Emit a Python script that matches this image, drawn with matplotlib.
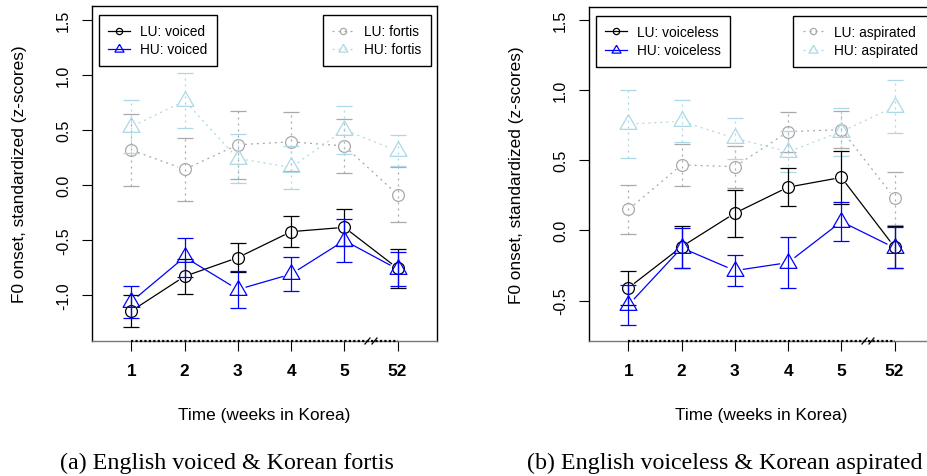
import matplotlib.pyplot as plt
import numpy as np
from matplotlib.collections import LineCollection
from matplotlib.lines import Line2D
from matplotlib.transforms import IdentityTransform

plt.rcParams['font.family'] = 'Liberation Sans'
plt.rcParams['axes.unicode_minus'] = False

# data (means and standard errors, z-scores)
weeks = ['1', '2', '3', '4', '5', '52']

lu_voiced = [-1.145, -0.83, -0.66, -0.424, -0.385, -0.757]
lu_voiced_se = [0.145, 0.16, 0.133, 0.138, 0.167, 0.175]
hu_voiced = [-1.06, -0.655, -0.95, -0.81, -0.505, -0.765]
hu_voiced_se = [0.145, 0.177, 0.164, 0.156, 0.194, 0.153]
lu_fortis = [0.318, 0.142, 0.366, 0.392, 0.355, -0.088]
lu_fortis_se = [0.33, 0.285, 0.31, 0.267, 0.245, 0.25]
hu_fortis = [0.53, 0.765, 0.24, 0.16, 0.5, 0.31]
hu_fortis_se = [0.24, 0.25, 0.225, 0.196, 0.22, 0.14]

lu_voiceless = [-0.41, -0.117, 0.122, 0.307, 0.376, -0.12]
lu_voiceless_se = [0.12, 0.15, 0.168, 0.134, 0.19, 0.15]
hu_voiceless = [-0.532, -0.125, -0.287, -0.23, 0.062, -0.125]
hu_voiceless_se = [0.14, 0.14, 0.113, 0.18, 0.14, 0.145]
lu_aspirated = [0.148, 0.465, 0.453, 0.702, 0.716, 0.228]
lu_aspirated_se = [0.175, 0.15, 0.15, 0.142, 0.13, 0.19]
hu_aspirated = [0.756, 0.775, 0.655, 0.559, 0.702, 0.88]
hu_aspirated_se = [0.245, 0.15, 0.145, 0.147, 0.17, 0.19]

W, H = 928, 477
LW = 0.9
DOT = (0, (1.6, 3.2))
GRAY = '#a9a9a9'
LBLUE = '#add8e6'
TRI = [(0, 1.555), (-1.347, -0.778), (1.347, -0.778), (0, 1.555)]  # R pch=2

fig = plt.figure(figsize=(W / 100, H / 100), dpi=100)


def px_box(x0, y0, x1, y1):
    return [x0 / W, 1 - y1 / H, (x1 - x0) / W, (y1 - y0) / H]


def gap_line(ax, x, y, gap, color, ls):
    # R type="b": line segments stop short of the points
    pts = ax.transData.transform(np.column_stack([x, y]))
    inv = ax.transData.inverted()
    segs = []
    for p, q in zip(pts[:-1], pts[1:]):
        d = q - p
        n = np.hypot(*d)
        if n > 2 * gap:
            u = d / n
            segs.append(inv.transform([p + u * gap, q - u * gap]))
    ax.add_collection(LineCollection(segs, colors=color, linewidths=LW,
                                     linestyles=[ls]))


def series(ax, y, se, color, marker, ms, ls):
    x = np.arange(1, len(weeks) + 1)
    gap_line(ax, x, y, 7 if marker == 'o' else 8, color, ls)
    eb = ax.errorbar(x, y, yerr=se, fmt='none', ecolor=color, elinewidth=LW,
                     capsize=5.5, capthick=LW)
    eb[2][0].set_linestyle(ls)
    ax.plot(x, y, linestyle='none', marker=marker, ms=ms, mfc='none',
            mec=color, mew=LW)


def handle(color, marker, ms, ls):
    return Line2D([], [], color=color, lw=LW, ls=ls, marker=marker, ms=ms,
                  mfc='none', mec=color, mew=LW)


def panel(box, ylim, yticks, eng, kor, eng_name, kor_name, xlab_x, ylab_x, caption, cap_x):
    ax = fig.add_axes(px_box(*box))
    ax.set_xlim(0.26, 6.74)
    ax.set_ylim(*ylim)
    x = np.arange(1, len(weeks) + 1)

    series(ax, kor[0], kor[1], GRAY, 'o', 8.5, DOT)
    series(ax, kor[2], kor[3], LBLUE, TRI, 14, DOT)
    series(ax, eng[0], eng[1], 'black', 'o', 8.5, '-')
    series(ax, eng[2], eng[3], 'blue', TRI, 14, '-')

    ax.set_xticks(x)
    ax.set_xticklabels(weeks, fontweight='bold', fontsize=12.4)
    ax.set_yticks(yticks)
    ax.set_yticklabels(['%.1f' % v for v in yticks], fontsize=11.5,
                       rotation=90, va='center')
    ax.tick_params(axis='x', length=7.2, width=0.8, pad=9)
    ax.tick_params(axis='y', length=7.2, width=0.8, pad=8)
    for s in ax.spines.values():
        s.set_linewidth(1.0)
    ax.spines['bottom'].set_color('#777777')

    # axis line from first to last week, with a break mark before 52
    ax.plot([x[0], x[-1]], [0, 0], transform=ax.get_xaxis_transform(),
            color='black', lw=1.6, ls=(0, (1, 1)), clip_on=False, zorder=4)
    bx, by = ax.transData.transform(((x[4] + x[5]) / 2, ylim[0]))
    for off in (-3.5, 3.5):
        ax.plot([bx + off - 2.5, bx + off + 2.5], [by - 3, by + 3],
                transform=IdentityTransform(), color='black', lw=0.9,
                clip_on=False, zorder=5)

    leg_kw = dict(borderaxespad=0, fancybox=False, edgecolor='black',
                  framealpha=1, fontsize=9.9, handlelength=1.55,
                  handletextpad=0.75, borderpad=0.7, labelspacing=0.3)
    leg1 = ax.legend([handle('black', 'o', 4.5, '-'), handle('blue', TRI, 7.5, '-')],
                     ['LU: ' + eng_name, 'HU: ' + eng_name],
                     loc='upper left', bbox_to_anchor=(0.0194, 0.974), **leg_kw)
    leg1.get_frame().set_linewidth(1.0)
    ax.add_artist(leg1)
    leg2 = ax.legend([handle(GRAY, 'o', 4.5, DOT), handle(LBLUE, TRI, 7.5, DOT)],
                     ['LU: ' + kor_name, 'HU: ' + kor_name],
                     loc='upper right', bbox_to_anchor=(0.982, 0.974), **leg_kw)
    leg2.get_frame().set_linewidth(1.0)

    yc = (box[1] + box[3]) / 2
    fig.text(ylab_x / W, 1 - yc / H, 'F0 onset, standardized (z-scores)',
             rotation=90, ha='center', va='center', fontsize=12.4)
    fig.text(xlab_x / W, 1 - 415.5 / H, 'Time (weeks in Korea)',
             ha='center', va='center', fontsize=12.4)
    fig.text(cap_x / W, 1 - 463 / H, caption, ha='center', va='center',
             fontsize=17.3, family='Liberation Serif')
    return ax


panel((92, 7, 437, 342), (-1.418, 1.627), [-1.0, -0.5, 0.0, 0.5, 1.0, 1.5],
      (lu_voiced, lu_voiced_se, hu_voiced, hu_voiced_se),
      (lu_fortis, lu_fortis_se, hu_fortis, hu_fortis_se),
      'voiced', 'fortis', 264.5, 20,
      '(a) English voiced & Korean fortis', 227)

panel((589, 8, 934, 342), (-0.788, 1.589), [-0.5, 0.0, 0.5, 1.0, 1.5],
      (lu_voiceless, lu_voiceless_se, hu_voiceless, hu_voiceless_se),
      (lu_aspirated, lu_aspirated_se, hu_aspirated, hu_aspirated_se),
      'voiceless', 'aspirated', 761.5, 517,
      '(b) English voiceless & Korean aspirated', 725)

fig.savefig('out.png', dpi=100)
